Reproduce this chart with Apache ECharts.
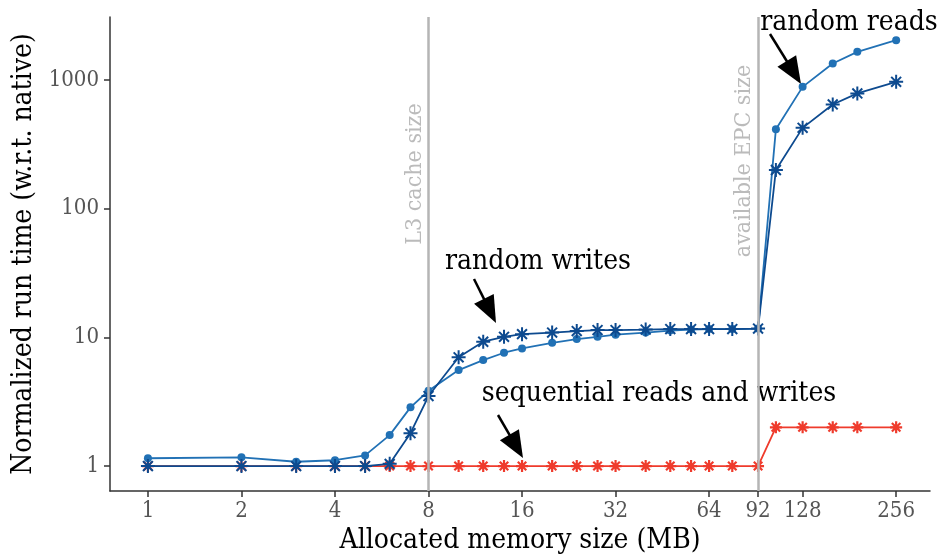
<!DOCTYPE html>
<html><head><meta charset="utf-8">
<script src="https://cdn.jsdelivr.net/npm/echarts@6/dist/echarts.min.js"></script>
<style>html,body{margin:0;padding:0;background:#fff}#c{width:943px;height:560px}</style>
</head><body><div id="c"></div>
<script>
const sizesMB = [1,2,3,4,5,6,7,8,10,12,14,16,20,24,28,32,40,48,56,64,76,92,105,128,160,192,256];
const randomReads = [1.15,1.17,1.08,1.11,1.21,1.74,2.86,3.85,5.57,6.66,7.6,8.2,9.08,9.7,10.1,10.5,10.9,11.3,11.5,11.6,11.6,11.7,415,885,1346,1657,2042];
const randomWrites = [1,1,1,1,1,1.04,1.8,3.5,7.0,9.25,10.1,10.6,10.9,11.2,11.4,11.4,11.5,11.6,11.6,11.6,11.6,11.7,200,425,646,787,968];
const seqReadsWrites = [1,1,1,1,1,1,1,1,1,1,1,1,1,1,1,1,1,1,1,1,1,1,2,2,2,2,2];
const xTicks = [1,2,4,8,16,32,64,92,128,256];
const yTicks = [1,10,100,1000];
const refLines = [{x:8,label:'L3 cache size'},{x:92,label:'available EPC size'}];

const FONT = "'DejaVu Serif Condensed','DejaVu Serif',serif";
const asterisk = 'path://M0,-10L0,10M-10,0L10,0M-7.07,-7.07L7.07,7.07M-7.07,7.07L7.07,-7.07';
const pairs = arr => sizesMB.map((x,i)=>[x,arr[i]]);

const chart = echarts.init(document.getElementById('c'));
const arrow = (x1,y1,x2,y2) => {
  const dx=x2-x1, dy=y2-y1, L=Math.hypot(dx,dy), ux=dx/L, uy=dy/L;
  const hl=27, hw=11;
  const bx=x2-ux*hl, by=y2-uy*hl;
  return [
    {type:'line', shape:{x1:x1,y1:y1,x2:bx+ux*2,y2:by+uy*2}, style:{stroke:'#000',lineWidth:2.5}},
    {type:'polygon', shape:{points:[[x2,y2],[bx-uy*hw,by+ux*hw],[bx+uy*hw,by-ux*hw]]}, style:{fill:'#000'}}
  ];
};
chart.setOption({
  animation:false,
  grid:{left:110,right:13,top:17,bottom:69,containLabel:false,outerBoundsMode:'none'},
  xAxis:{type:'log',logBase:2,min:0.755,max:329,
    name:'Allocated memory size (MB)',nameLocation:'middle',nameGap:34,
    nameTextStyle:{fontFamily:FONT,fontSize:28,color:'#000'},
    axisLine:{lineStyle:{color:'#333',width:1.5}},
    axisTick:{customValues:xTicks,length:6,lineStyle:{color:'#333',width:1.5}},
    axisLabel:{customValues:xTicks,fontFamily:FONT,fontSize:22,color:'#555',margin:9},
    splitLine:{show:false},minorTick:{show:false}},
  yAxis:{type:'log',logBase:10,min:0.64,max:3090,
    name:'Normalized run time (w.r.t. native)',nameLocation:'middle',nameGap:69,
    nameTextStyle:{fontFamily:FONT,fontSize:28,color:'#000'},
    axisLine:{show:true,lineStyle:{color:'#333',width:1.5}},
    axisTick:{show:true,customValues:yTicks,length:6,lineStyle:{color:'#333',width:1.5}},
    axisLabel:{customValues:yTicks,fontFamily:FONT,fontSize:22,color:'#555',margin:11,
      formatter:v=>String(Math.round(v))},
    splitLine:{show:false}},
  series:[
    {name:'sequential reads and writes',type:'line',data:pairs(seqReadsWrites),
      symbol:asterisk,symbolSize:12,symbolKeepAspect:true,
      lineStyle:{color:'#ef3b2c',width:1.8},
      itemStyle:{color:'#ef3b2c',borderColor:'#ef3b2c',borderWidth:2.2},
      markLine:{silent:true,symbol:'none',label:{show:false},
        lineStyle:{color:'#b5b5b5',width:2.5,type:'solid'},
        data:refLines.map(r=>({xAxis:r.x}))},z:2},
    {name:'random reads',type:'line',data:pairs(randomReads),
      symbol:'circle',symbolSize:8,
      lineStyle:{color:'#2171b5',width:1.8},itemStyle:{color:'#2171b5'},z:3},
    {name:'random writes',type:'line',data:pairs(randomWrites),
      symbol:asterisk,symbolSize:14,symbolKeepAspect:true,
      lineStyle:{color:'#0d4a8f',width:1.8},
      itemStyle:{color:'#0d4a8f',borderColor:'#0d4a8f',borderWidth:2},z:4}
  ],
  graphic:[
    {type:'text',x:415,y:174,rotation:Math.PI/2,style:{text:refLines[0].label,fill:'#bbbbbb',fontFamily:FONT,fontSize:23,align:'center',verticalAlign:'middle'}},
    {type:'text',x:744,y:161,rotation:Math.PI/2,style:{text:refLines[1].label,fill:'#bbbbbb',fontFamily:FONT,fontSize:23,align:'center',verticalAlign:'middle'}},
    {type:'text',x:849,y:23,style:{text:'random reads',fill:'#000',fontFamily:FONT,fontSize:28,align:'center',verticalAlign:'middle'}},
    {type:'text',x:538,y:262,style:{text:'random writes',fill:'#000',fontFamily:FONT,fontSize:28,align:'center',verticalAlign:'middle'}},
    {type:'text',x:659,y:394,style:{text:'sequential reads and writes',fill:'#000',fontFamily:FONT,fontSize:28,align:'center',verticalAlign:'middle'}},
    ...arrow(770,34,801,84),
    ...arrow(474,279,496,323),
    ...arrow(498,415,523,458)
  ]
});
</script></body></html>
